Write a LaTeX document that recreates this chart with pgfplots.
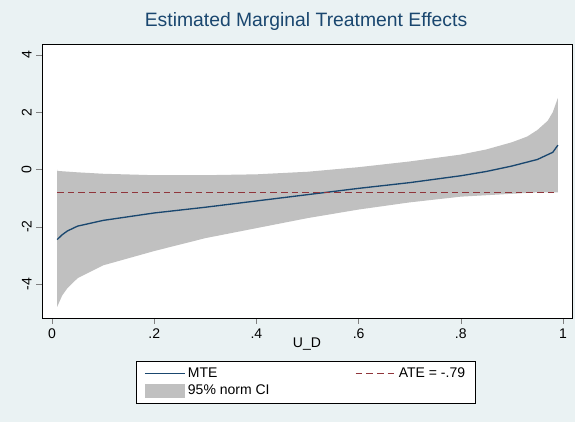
\documentclass[border=0pt]{standalone}
\usepackage{pgfplots}
\pgfplotsset{compat=1.18}
\usepackage{fontspec}
\setmainfont{Liberation Sans}
\definecolor{bg}{HTML}{EAF2F3}
\definecolor{navy}{HTML}{1A476F}
\definecolor{ared}{HTML}{90353B}
\definecolor{band}{HTML}{C0C0C0}
\begin{document}
\begin{tikzpicture}
\fill[bg] (0,0) rectangle (431.25pt,316.5pt);
\node[font=\fontsize{14.5}{16}\selectfont, text=navy] at (229.5pt,300pt) {Estimated Marginal Treatment Effects};
\begin{axis}[at={(31.5pt,78pt)}, anchor=south west, scale only axis,
 width=397.5pt, height=205.5pt,
 xmin=-0.0196, xmax=1.0176, ymin=-5.19, ymax=4.384,
 axis background/.style={fill=white},
 axis line style={black, line width=0.4pt},
 tick align=outside, xtick pos=bottom, ytick pos=left,
 xtick={0,0.2,0.4,0.6,0.8,1}, xticklabels={0,.2,.4,.6,.8,1},
 ytick={-4,-2,0,2,4}, yticklabels={-4,-2,0,2,4},
 yticklabel style={rotate=90},
 /pgf/number format/assume math mode=true,
 ticklabel style={font=\fontsize{10.5}{12}\selectfont},
 xlabel={U\_D}, xlabel style={font=\fontsize{10.5}{12}\selectfont, yshift=7pt},
 legend style={at={(0.498,-0.2336)}, anchor=center, legend columns=2, font=\fontsize{10.5}{12}\selectfont,
  draw=black, /tikz/every even column/.append style={column sep=62pt}, inner xsep=6pt, inner ysep=3pt},
 legend cell align=left,
 legend image code/.code={\draw[#1, line width=1pt] (0cm,0cm) -- (1.05cm,0cm);},
]
\addplot[fill=band, draw=none, forget plot] coordinates {
(0.01,-0.05)(0.05,-0.1)(0.1,-0.15)(0.2,-0.2)(0.3,-0.2)(0.4,-0.17)(0.5,-0.08)(0.6,0.08)(0.7,0.28)(0.8,0.52)(0.85,0.7)(0.9,0.95)(0.93,1.15)(0.95,1.38)(0.97,1.7)(0.98,2.0)(0.99,2.5)
(0.99,-0.8)(0.95,-0.8)(0.9,-0.85)(0.8,-0.95)(0.7,-1.15)(0.6,-1.4)(0.5,-1.7)(0.4,-2.05)(0.3,-2.4)(0.2,-2.85)(0.1,-3.35)(0.05,-3.8)(0.03,-4.15)(0.02,-4.4)(0.01,-4.8)} \closedcycle;
\addplot[navy, line width=1pt] coordinates {
(0.01,-2.45)(0.02,-2.28)(0.03,-2.15)(0.05,-1.98)(0.1,-1.78)(0.2,-1.52)(0.3,-1.32)(0.4,-1.1)(0.5,-0.88)(0.6,-0.66)(0.7,-0.46)(0.8,-0.22)(0.85,-0.07)(0.9,0.12)(0.95,0.35)(0.98,0.6)(0.99,0.85)};
\addlegendentry{MTE}
\addplot[ared, dash pattern=on 5pt off 3pt, line width=0.8pt] coordinates {(0.01,-0.79)(0.99,-0.79)};
\addlegendentry{ATE = -.79}
\addlegendimage{legend image code/.code={\fill[band] (0cm,-0.17cm) rectangle (1.05cm,0.17cm);}}
\addlegendentry{95\% norm CI}
\end{axis}
\end{tikzpicture}
\end{document}
